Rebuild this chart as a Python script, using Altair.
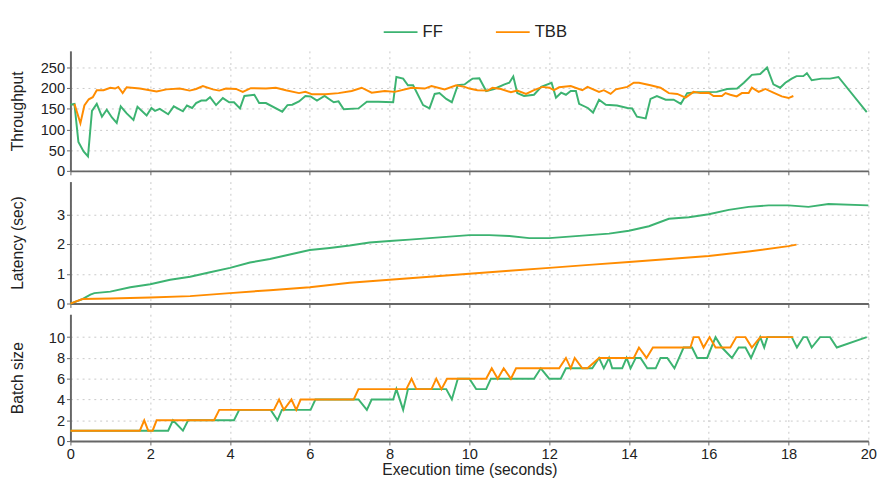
import altair as alt
import pandas as pd

# Throughput
ff_tp_t = [0.0, 0.1, 0.2, 0.33, 0.44, 0.54, 0.66, 0.79, 0.91, 1.04, 1.16, 1.26, 1.41, 1.58, 1.68, 1.91, 2.03, 2.12, 2.24, 2.45, 2.59, 2.82, 2.92, 3.05, 3.15, 3.28, 3.4, 3.5, 3.65, 3.82, 3.98, 4.1, 4.25, 4.36, 4.61, 4.73, 4.9, 5.31, 5.44, 5.56, 5.73, 5.89, 6.02, 6.18, 6.37, 6.6, 6.72, 6.85, 7.22, 7.43, 7.72, 8.09, 8.17, 8.34, 8.46, 8.59, 8.84, 9.0, 9.13, 9.25, 9.42, 9.56, 9.71, 9.88, 10.0, 10.08, 10.25, 10.42, 10.62, 10.88, 11.0, 11.1, 11.2, 11.37, 11.62, 11.8, 12.06, 12.17, 12.3, 12.42, 12.54, 12.67, 12.75, 12.97, 13.1, 13.25, 13.42, 13.7, 13.96, 14.08, 14.2, 14.42, 14.54, 14.7, 14.92, 15.12, 15.3, 15.46, 15.71, 16.2, 16.46, 16.71, 16.88, 17.08, 17.29, 17.46, 17.62, 17.79, 17.92, 18.08, 18.2, 18.37, 18.46, 18.58, 18.83, 19.04, 19.25, 19.96]
ff_tp_v = [160, 162, 70, 47, 35, 145, 162, 131, 148, 129, 116, 156, 139, 123, 155, 134, 152, 145, 150, 137, 156, 144, 158, 152, 164, 170, 170, 178, 159, 176, 166, 166, 151, 181, 184, 164, 164, 143, 159, 160, 168, 181, 180, 170, 181, 166, 168, 149, 151, 167, 167, 166, 227, 223, 207, 207, 159, 151, 186, 188, 174, 166, 207, 209, 218, 223, 224, 193, 198, 209, 213, 228, 188, 181, 184, 203, 213, 177, 189, 184, 193, 193, 162, 152, 141, 172, 160, 158, 152, 151, 131, 127, 174, 181, 172, 172, 162, 188, 190, 191, 198, 199, 213, 232, 234, 250, 209, 201, 213, 223, 229, 229, 236, 219, 223, 223, 227, 142]
tbb_tp_t = [0.1, 0.25, 0.35, 0.46, 0.56, 0.66, 0.83, 1.0, 1.12, 1.2, 1.31, 1.41, 1.74, 2.16, 2.41, 2.74, 2.99, 3.15, 3.32, 3.57, 3.73, 3.9, 4.15, 4.32, 4.52, 4.9, 5.15, 5.4, 5.73, 5.89, 6.06, 6.39, 6.72, 7.05, 7.3, 7.55, 7.88, 8.13, 8.55, 8.88, 9.05, 9.38, 9.67, 9.88, 10.0, 10.2, 10.46, 10.58, 10.79, 11.04, 11.2, 11.42, 11.62, 11.83, 12.0, 12.12, 12.25, 12.54, 12.83, 12.96, 13.25, 13.37, 13.54, 13.67, 13.96, 14.12, 14.25, 14.54, 14.79, 15.0, 15.21, 15.42, 15.62, 15.79, 16.0, 16.12, 16.33, 16.42, 16.54, 16.7, 16.83, 17.0, 17.08, 17.25, 17.42, 17.62, 17.83, 18.0, 18.12]
tbb_tp_v = [162, 115, 158, 173, 178, 195, 195, 201, 199, 203, 188, 202, 199, 192, 197, 199, 194, 198, 205, 197, 194, 199, 198, 191, 200, 199, 201, 195, 188, 191, 185, 185, 188, 193, 201, 189, 193, 191, 201, 199, 205, 197, 207, 203, 199, 195, 194, 201, 198, 190, 194, 186, 195, 203, 201, 195, 202, 205, 195, 203, 191, 195, 186, 197, 203, 213, 213, 207, 201, 188, 186, 177, 191, 188, 189, 181, 181, 188, 184, 180, 188, 188, 201, 191, 198, 189, 180, 176, 181]

# Latency
ff_lat_t = [0.0, 0.3, 0.5, 0.6, 1.0, 1.5, 2.0, 2.5, 3.0, 3.5, 4.0, 4.5, 5.0, 5.5, 6.0, 6.5, 7.0, 7.5, 8.0, 8.5, 9.0, 9.5, 10.0, 10.5, 11.0, 11.5, 12.0, 12.5, 13.0, 13.5, 14.0, 14.5, 15.0, 15.5, 16.0, 16.5, 17.0, 17.5, 18.0, 18.5, 19.0, 20.0]
ff_lat_v = [0.0, 0.15, 0.3, 0.35, 0.4, 0.55, 0.65, 0.8, 0.9, 1.05, 1.2, 1.38, 1.5, 1.65, 1.8, 1.87, 1.95, 2.05, 2.1, 2.15, 2.2, 2.25, 2.3, 2.3, 2.27, 2.2, 2.2, 2.25, 2.3, 2.35, 2.45, 2.6, 2.85, 2.9, 3.0, 3.15, 3.25, 3.3, 3.3, 3.25, 3.35, 3.3]
tbb_lat_t = [0.0, 0.3, 1.0, 2.0, 3.0, 4.0, 5.0, 6.0, 7.0, 8.0, 9.0, 10.0, 11.0, 12.0, 13.0, 14.0, 15.0, 16.0, 17.0, 18.0, 18.2]
tbb_lat_v = [0.0, 0.15, 0.17, 0.2, 0.25, 0.35, 0.45, 0.55, 0.7, 0.8, 0.9, 1.0, 1.1, 1.2, 1.3, 1.4, 1.5, 1.6, 1.75, 1.93, 1.98]

# Batch size
ff_bs_t = [0.0, 2.45, 2.57, 2.82, 2.95, 4.1, 4.23, 5.02, 5.19, 5.3, 6.02, 6.14, 7.22, 7.43, 7.55, 8.09, 8.17, 8.34, 8.46, 9.42, 9.56, 9.71, 10.0, 10.17, 10.42, 10.54, 11.62, 11.79, 12.0, 12.29, 12.42, 13.08, 13.25, 13.37, 13.5, 13.58, 13.83, 13.94, 14.04, 14.17, 14.29, 14.46, 14.67, 14.79, 14.96, 15.14, 15.37, 15.58, 15.71, 15.96, 16.17, 16.33, 16.58, 16.75, 16.92, 17.06, 17.29, 17.39, 17.47, 18.08, 18.21, 18.37, 18.46, 18.58, 18.79, 19.04, 19.21, 19.96]
ff_bs_v = [1, 1, 2, 1, 2, 2, 3, 3, 2, 3, 3, 4, 4, 3, 4, 4, 5, 3, 5, 5, 4, 6, 6, 5, 5, 6, 6, 7, 6, 6, 7, 7, 8, 7, 8, 7, 7, 8, 7, 8, 8, 7, 7, 8, 8, 7, 9, 9, 8, 8, 10, 9, 8, 9, 9, 8, 10, 9, 10, 10, 9, 10, 10, 9, 10, 10, 9, 10]
tbb_bs_t = [0.0, 1.74, 1.85, 1.95, 2.06, 2.16, 3.6, 3.73, 5.1, 5.23, 5.35, 5.54, 5.66, 5.77, 7.1, 7.22, 8.42, 8.55, 8.67, 9.05, 9.17, 9.3, 9.44, 10.42, 10.56, 10.71, 10.86, 11.04, 11.17, 12.25, 12.42, 12.54, 12.64, 12.83, 12.96, 13.25, 14.12, 14.25, 14.44, 14.6, 15.54, 15.62, 15.75, 15.87, 16.02, 16.17, 16.54, 16.69, 16.92, 17.08, 17.29, 18.12]
tbb_bs_v = [1, 1, 2, 1, 1, 2, 2, 3, 3, 4, 3, 4, 3, 4, 4, 5, 5, 6, 5, 5, 6, 5, 6, 6, 7, 6, 7, 6, 7, 7, 8, 7, 8, 7, 7, 8, 8, 9, 8, 9, 9, 10, 10, 9, 10, 9, 9, 10, 10, 9, 10, 10]

FONT = "Liberation Sans"
series_scale = alt.Scale(domain=["FF", "TBB"], range=["#3cb371", "#ff8c00"])


def frame(t_ff, v_ff, t_tbb, v_tbb):
    a = pd.DataFrame({"t": t_ff, "v": v_ff, "s": "FF"})
    b = pd.DataFrame({"t": t_tbb, "v": v_tbb, "s": "TBB"})
    return pd.concat([a, b], ignore_index=True)


def panel(df, title, ymax, yticks, height, bottom=False, show_legend=False):
    xaxis = alt.Axis(
        values=list(range(0, 21, 2)), labels=bottom, tickSize=4,
        title="Execution time (seconds)" if bottom else None,
        gridDash=[2, 4], gridColor="#c8c8c8", domainColor="#666", domainWidth=2,
        tickColor="#666", labelFontSize=15, titleFontSize=16, labelFont=FONT,
        titleFont=FONT, titleFontWeight="normal", titlePadding=0, labelPadding=2,
        labelColor="#222", titleColor="#222", labelFlush=False,
    )
    yaxis = alt.Axis(
        values=yticks, title=title, gridDash=[2, 4], gridColor="#c8c8c8",
        domainColor="#666", domainWidth=2, tickColor="#666", labelFontSize=15,
        titleFontSize=16, labelFont=FONT, titleFont=FONT, tickSize=4,
        titleFontWeight="normal", minExtent=38, labelColor="#222", titleColor="#222",
        titlePadding=8,
    )
    if show_legend:
        legend = alt.Legend(
            title=None, orient="none", direction="horizontal",
            legendX=320, legendY=-38, symbolType="stroke", symbolSize=1200,
            symbolStrokeWidth=2, labelFontSize=17, columnPadding=50,
            labelFont=FONT, labelColor="#222",
        )
    else:
        legend = None
    return (
        alt.Chart(df)
        .mark_line(strokeWidth=2)
        .encode(
            x=alt.X("t:Q", scale=alt.Scale(domain=[0, 20], nice=False), axis=xaxis),
            y=alt.Y("v:Q", scale=alt.Scale(domain=[0, ymax], nice=False), axis=yaxis),
            color=alt.Color("s:N", scale=series_scale, legend=legend),
            order="t:Q",
        )
        .properties(width=818, height=height)
    )


top = panel(frame(ff_tp_t, ff_tp_v, tbb_tp_t, tbb_tp_v), "Throughput", 290,
            [0, 50, 100, 150, 200, 250], 123, show_legend=True)
mid = panel(frame(ff_lat_t, ff_lat_v, tbb_lat_t, tbb_lat_v), "Latency (sec)", 4.1,
            [0, 1, 2, 3], 125)
bot = panel(frame(ff_bs_t, ff_bs_v, tbb_bs_t, tbb_bs_v), "Batch size", 12.2,
            [0, 2, 4, 6, 8, 10], 130, bottom=True)

chart = (
    alt.vconcat(top, mid, bot, spacing=3)
    .properties(padding={"left": 2, "top": 0, "right": 5, "bottom": 0})
    .configure_view(stroke=None)
)

chart.save("out.html", embed_options={"renderer": "svg", "actions": False})
